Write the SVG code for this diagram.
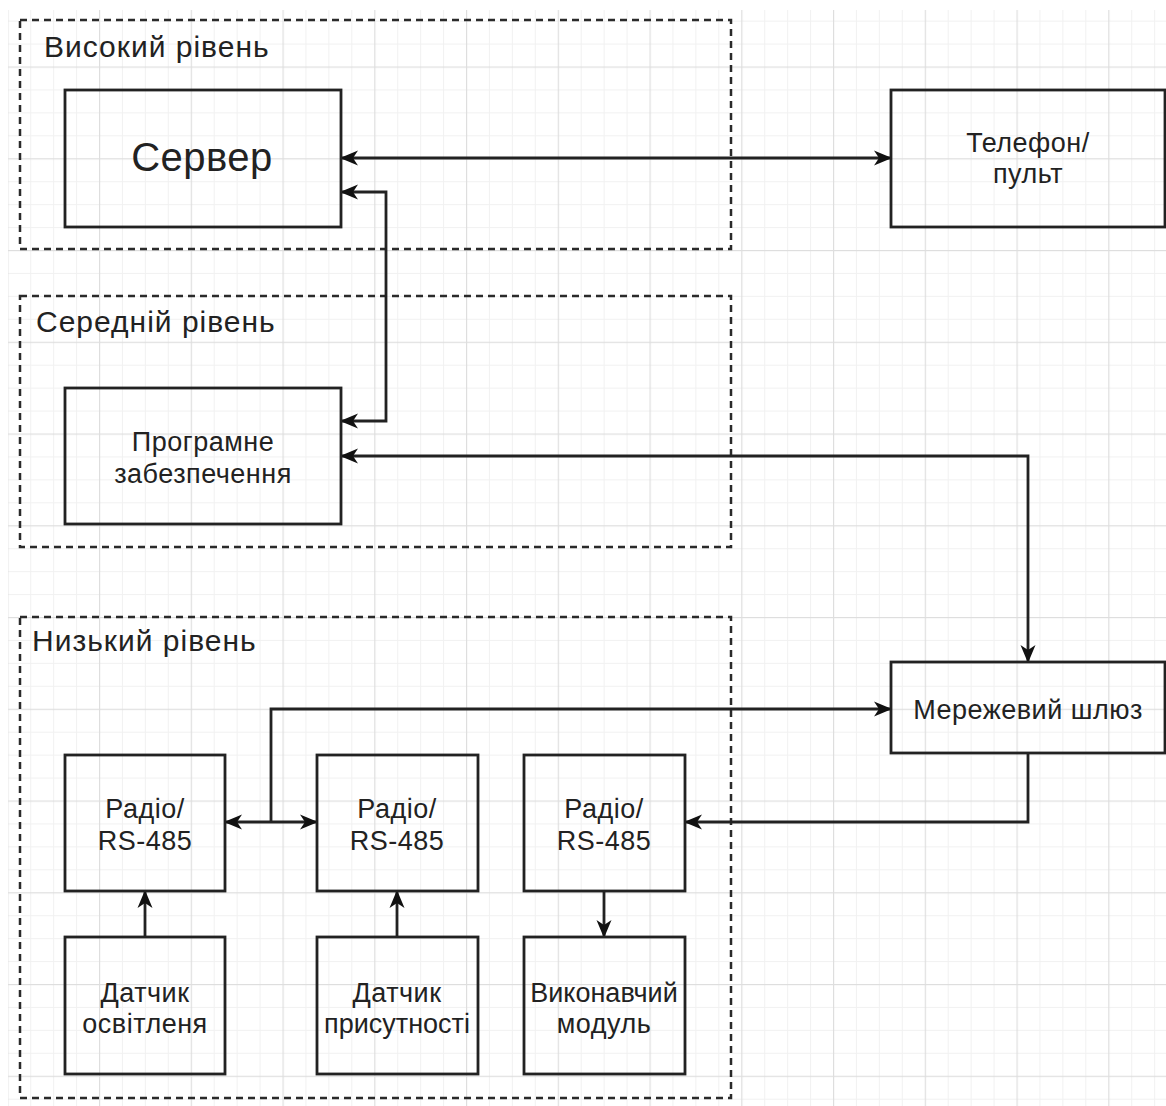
<svg xmlns="http://www.w3.org/2000/svg" width="1166" height="1106" viewBox="0 0 1166 1106">
  <style>
    .grp { fill: none; stroke: #2a2a2a; stroke-width: 2.5; stroke-dasharray: 7 5; }
    .box { fill: none; stroke: #222; stroke-width: 2.8; }
    .t { font-family: "Liberation Sans", Arial, sans-serif; fill: #222; text-anchor: middle; font-size: 27px; letter-spacing: 0.5px; }
    .gl { font-family: "Liberation Sans", Arial, sans-serif; fill: #222; font-size: 30px; letter-spacing: 1px; }
    .c { fill: none; stroke: #222; stroke-width: 2.8; }
  </style>
  <defs>
    <pattern id="grid" x="7.25" y="-25.25" width="91.75" height="91.75" patternUnits="userSpaceOnUse">
      <rect x="22.94" y="0" width="1" height="91.75" fill="#f1f1f1"/>
      <rect x="45.87" y="0" width="1" height="91.75" fill="#f1f1f1"/>
      <rect x="68.81" y="0" width="1" height="91.75" fill="#f1f1f1"/>
      <rect x="0" y="22.94" width="91.75" height="1" fill="#f1f1f1"/>
      <rect x="0" y="45.87" width="91.75" height="1" fill="#f1f1f1"/>
      <rect x="0" y="68.81" width="91.75" height="1" fill="#f1f1f1"/>
      <rect x="0" y="0" width="1.2" height="91.75" fill="#dedede"/>
      <rect x="0" y="0" width="91.75" height="1.2" fill="#dedede"/>
    </pattern>
    <marker id="arr" viewBox="0 0 18 16" refX="17" refY="8" markerWidth="18" markerHeight="16" markerUnits="userSpaceOnUse" orient="auto-start-reverse">
      <path d="M0,0.5 L18,8 L0,15.5 L5,8 Z" fill="#111"/>
    </marker>
  </defs>

  <rect width="1166" height="1106" fill="#fff"/>
  <rect x="8" y="10" width="1158" height="1096" fill="url(#grid)"/>

  <g id="level-high">
    <rect class="grp" x="20" y="20" width="711" height="229"/>
    <text class="gl" x="44" y="57">Високий рівень</text>
  </g>
  <g id="level-mid">
    <rect class="grp" x="20" y="296" width="711" height="251"/>
    <text class="gl" x="36" y="332">Середній рівень</text>
  </g>
  <g id="level-low">
    <rect class="grp" x="20" y="617" width="711" height="481"/>
    <text class="gl" x="32" y="651">Низький рівень</text>
  </g>

  <g id="connectors">
    <path class="c" d="M341,158 H891" marker-start="url(#arr)" marker-end="url(#arr)"/>
    <path class="c" d="M341,192 H386 V421 H341" marker-start="url(#arr)" marker-end="url(#arr)"/>
    <path class="c" d="M341,456 H1028 V662" marker-start="url(#arr)" marker-end="url(#arr)"/>
    <path class="c" d="M225,822 H317" marker-start="url(#arr)" marker-end="url(#arr)"/>
    <path class="c" d="M271,822 V709 H891" marker-end="url(#arr)"/>
    <path class="c" d="M1028,753 V822 H685" marker-end="url(#arr)"/>
    <path class="c" d="M145,937 V891" marker-end="url(#arr)"/>
    <path class="c" d="M397,937 V891" marker-end="url(#arr)"/>
    <path class="c" d="M604,891 V937" marker-end="url(#arr)"/>
  </g>

  <g id="server">
    <rect class="box" x="65" y="90" width="276" height="137"/>
    <text class="t" x="202" y="171" style="font-size:40px;letter-spacing:0.5px">Сервер</text>
  </g>
  <g id="phone">
    <rect class="box" x="891" y="90" width="274" height="137"/>
    <text class="t" x="1028" y="152">Телефон/</text>
    <text class="t" x="1028" y="183">пульт</text>
  </g>
  <g id="software">
    <rect class="box" x="65" y="388" width="276" height="136"/>
    <text class="t" x="203" y="451">Програмне</text>
    <text class="t" x="203" y="483">забезпечення</text>
  </g>
  <g id="gateway">
    <rect class="box" x="891" y="662" width="274" height="91"/>
    <text class="t" x="1028" y="719">Мережевий шлюз</text>
  </g>
  <g id="radio1">
    <rect class="box" x="65" y="755" width="160" height="136"/>
    <text class="t" x="145" y="818">Радіо/</text>
    <text class="t" x="145" y="850">RS-485</text>
  </g>
  <g id="radio2">
    <rect class="box" x="317" y="755" width="161" height="136"/>
    <text class="t" x="397" y="818">Радіо/</text>
    <text class="t" x="397" y="850">RS-485</text>
  </g>
  <g id="radio3">
    <rect class="box" x="524" y="755" width="161" height="136"/>
    <text class="t" x="604" y="818">Радіо/</text>
    <text class="t" x="604" y="850">RS-485</text>
  </g>
  <g id="light-sensor">
    <rect class="box" x="65" y="937" width="160" height="137"/>
    <text class="t" x="145" y="1002">Датчик</text>
    <text class="t" x="145" y="1033">освітленя</text>
  </g>
  <g id="presence-sensor">
    <rect class="box" x="317" y="937" width="161" height="137"/>
    <text class="t" x="397" y="1002">Датчик</text>
    <text class="t" x="397" y="1033" style="letter-spacing:0">присутності</text>
  </g>
  <g id="actuator">
    <rect class="box" x="524" y="937" width="161" height="137"/>
    <text class="t" x="604" y="1002" style="letter-spacing:0">Виконавчий</text>
    <text class="t" x="604" y="1033">модуль</text>
  </g>
</svg>
